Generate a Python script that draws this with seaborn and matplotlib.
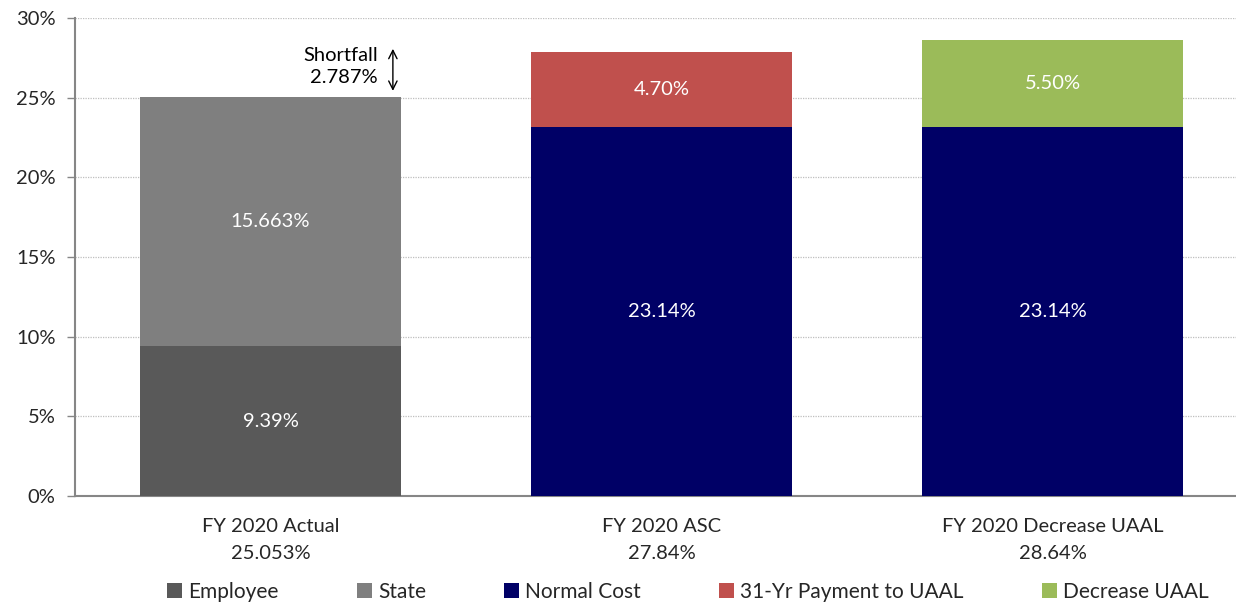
import numpy as np
import pandas as pd
import matplotlib
matplotlib.use("Agg")
import matplotlib.pyplot as plt
from matplotlib.patches import Patch
import seaborn as sns

# Contribution components by scenario (% of payroll)
categories = ["FY 2020 Actual", "FY 2020 ASC", "FY 2020 Decrease UAAL"]
employee = [9.39, 0.0, 0.0]
state = [15.663, 0.0, 0.0]
normal_cost = [0.0, 23.14, 23.14]
payment_31yr = [0.0, 4.70, 0.0]
decrease_uaal = [0.0, 0.0, 5.50]
total_decimals = [3, 2, 2]

series_names = ["Employee", "State", "Normal Cost", "31-Yr Payment to UAAL", "Decrease UAAL"]
series_colors = ["#595959", "#7F7F7F", "#000066", "#C0504D", "#9BBB59"]
series_decimals = [2, 3, 2, 2, 2]

sns.set_style("white")
plt.rcParams["font.family"] = ["Lato", "DejaVu Sans"]

df = pd.DataFrame({
    "category": categories,
    "Employee": employee,
    "State": state,
    "Normal Cost": normal_cost,
    "31-Yr Payment to UAAL": payment_31yr,
    "Decrease UAAL": decrease_uaal,
})

# Stack order within each bar: Employee+State for actual, Normal Cost + extra for the others
stack_order = ["Employee", "State", "Normal Cost", "31-Yr Payment to UAAL", "Decrease UAAL"]
tops = df[stack_order].cumsum(axis=1)
bottoms = tops - df[stack_order]
totals = df[stack_order].sum(axis=1)

fig = plt.figure(figsize=(12.36, 6.06), dpi=100)
ax = fig.add_axes([75 / 1236, 1 - 496 / 606, (1248 - 75) / 1236, (496 - 18) / 606])

# Draw cumulative tops back to front so each segment shows its own colour
for name in reversed(stack_order):
    color = series_colors[series_names.index(name)]
    heights = np.where(df[name] > 0, tops[name], 0.0)
    sns.barplot(x=df["category"], y=heights, color=color, saturation=1,
                width=0.665, errorbar=None, ax=ax, zorder=3,
                linewidth=0, edgecolor="none")

# Segment value labels
for i in range(len(categories)):
    for name in stack_order:
        v = df.loc[i, name]
        if v > 0:
            d = series_decimals[series_names.index(name)]
            ax.text(i, bottoms.loc[i, name] + v / 2, f"{v:.{d}f}%", ha="center", va="center",
                    color="white", fontsize=14.5, zorder=5)

# Shortfall between actual and ASC totals
lo, hi = totals[0], totals[1]
shortfall = hi - lo
ax.annotate("", xy=(0.313, lo + 0.2), xytext=(0.313, hi + 0.4),
            arrowprops=dict(arrowstyle="<->", color="black", lw=1.0, mutation_scale=15), zorder=6)
ax.text(0.275, (lo + hi) / 2 + 0.5, f"Shortfall\n{shortfall:.3f}%", ha="right", va="center",
        fontsize=14.5, linespacing=1.35, color="black", zorder=6)

# Axes styling
ax.set_xlim(-0.5, 2.5)
ax.set_ylim(0, 30)
ax.set_yticks(np.arange(0, 31, 5))
ax.set_yticklabels([f"{t}%" for t in range(0, 31, 5)], fontsize=14.5)
ax.set_xticks(range(len(categories)))
ax.set_xticklabels([f"{c}\n{t:.{d}f}%" for c, t, d in zip(categories, totals, total_decimals)],
                   fontsize=14.5, linespacing=1.7)
ax.set_xticks([-0.5, 0.5, 1.5, 2.5], minor=True)
ax.tick_params(axis="x", which="major", length=0, pad=16)
ax.tick_params(axis="x", which="minor", length=6, color="#868686", width=1)
ax.tick_params(axis="y", which="major", length=6, color="#868686", width=1, pad=8, left=True)
ax.set_xlabel("")
ax.set_ylabel("")

ax.yaxis.grid(True, linestyle=(0, (1, 1)), color="#BFBFBF", linewidth=0.9, zorder=0)
ax.set_axisbelow(True)
for side in ["top", "right"]:
    ax.spines[side].set_visible(False)
for side in ["left", "bottom"]:
    ax.spines[side].set_color("#868686")
    ax.spines[side].set_linewidth(1.5)

handles = [Patch(facecolor=c, edgecolor="none", label=n) for n, c in zip(series_names, series_colors)]
fig.legend(handles=handles, loc="center left", bbox_to_anchor=(167 / 1236, 1 - 592 / 606),
           ncol=5, frameon=False, fontsize=15, borderpad=0, borderaxespad=0,
           handlelength=0.72, handleheight=0.72, handletextpad=0.3, columnspacing=3.75)

fig.savefig("out.png", dpi=100)
